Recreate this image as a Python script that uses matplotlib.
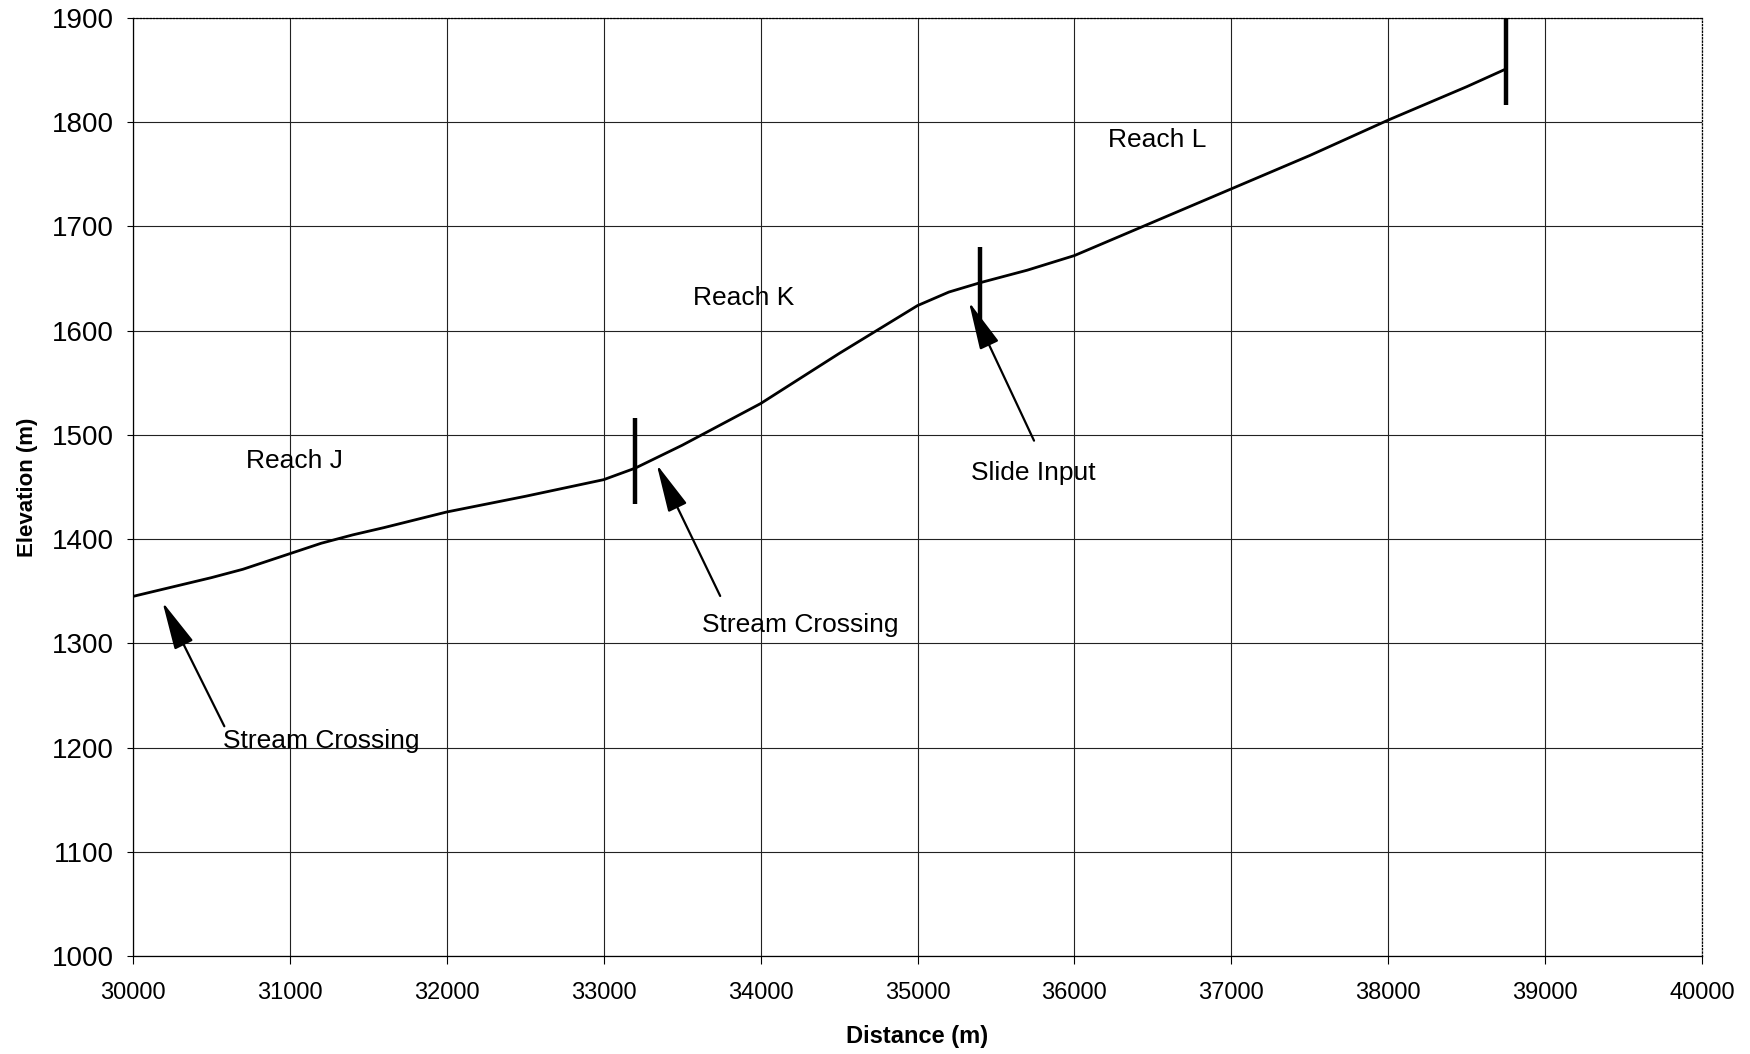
import matplotlib.pyplot as plt

# profile
distance = [30000, 30250, 30500, 30700, 31000, 31200, 31400, 31600, 32000, 32500,
            33000, 33200, 33500, 34000, 34500, 35000, 35200, 35400, 35700, 36000,
            36500, 37000, 37500, 38000, 38500, 38750]
elevation = [1345, 1354, 1363, 1371, 1386, 1396, 1404, 1411, 1426, 1441,
             1457, 1468, 1490, 1530, 1578, 1624, 1637, 1646, 1658, 1672,
             1704, 1736, 1768, 1802, 1834, 1851]

# reach boundaries (x, bottom, top)
bound_x = [33200, 35400, 38750]
bound_lo = [1434, 1597, 1816]
bound_hi = [1516, 1680, 1902]

reach_labels = ["Reach J", "Reach K", "Reach L"]
reach_x = [31030, 33890, 36530]
reach_y = [1475, 1631, 1783]

notes = ["Stream Crossing", "Stream Crossing", "Slide Input"]
note_x = [31200, 34250, 35740]
note_y = [1206, 1318, 1463]
tail_x = [30590, 33750, 35750]
tail_y = [1218, 1343, 1492]
head_x = [30180, 33330, 35320]
head_y = [1342, 1474, 1630]

plt.rcParams['font.family'] = ['Liberation Sans', 'DejaVu Sans']

fig = plt.figure(figsize=(17.5, 10.54), dpi=100)
ax = fig.add_axes([0.076, 0.093, 0.8966, 0.89])

ax.plot(distance, elevation, color="black", lw=2.0, zorder=3)
ax.vlines(bound_x, bound_lo, bound_hi, color="black", lw=3.2, zorder=4)

for lab, x, y in zip(reach_labels, reach_x, reach_y):
    ax.text(x, y, lab, fontsize=19, ha="center", va="center")

for lab, tx, ty, ax0, ay0, hx, hy in zip(notes, note_x, note_y, tail_x, tail_y, head_x, head_y):
    ax.text(tx, ty, lab, fontsize=19, ha="center", va="center")
    ax.annotate("", xy=(hx, hy), xytext=(ax0, ay0),
                arrowprops=dict(arrowstyle="-|>,head_length=1.5,head_width=0.32",
                                color="black", lw=1.6, mutation_scale=20))

ax.set_xlim(30000, 40000)
ax.set_ylim(1000, 1900)
ax.set_xticks(range(30000, 40001, 1000))
ax.set_yticks(range(1000, 1901, 100))
ax.grid(True, color="#222222", lw=0.8)
ax.tick_params(axis="x", labelsize=17, length=6, direction="out", width=0.8, pad=13)
ax.tick_params(axis="y", labelsize=20, length=4, direction="out", width=0.8, pad=10)
for s in ax.spines.values():
    s.set_linewidth(0.9)
ax.spines["top"].set_linestyle(":")
ax.spines["right"].set_linestyle(":")

ax.set_xlabel("Distance (m)", fontsize=17, fontweight="bold", labelpad=15)
ax.set_ylabel("Elevation (m)", fontsize=16, fontweight="bold", labelpad=10)

fig.savefig("out.png", dpi=100)
